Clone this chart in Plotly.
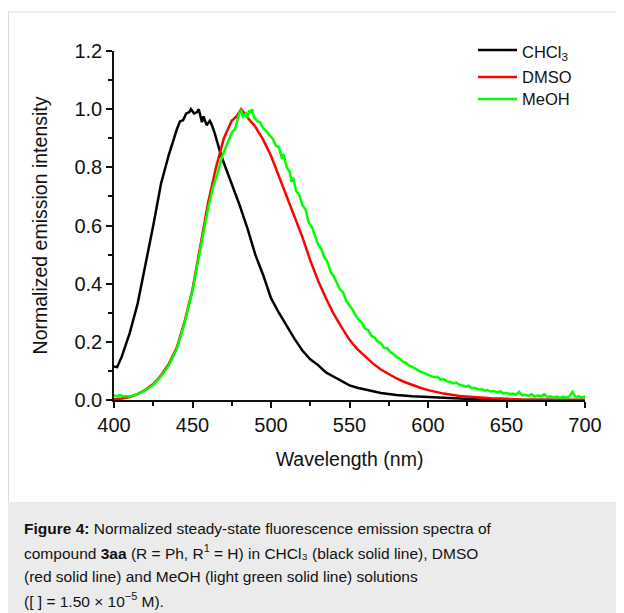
import plotly.graph_objects as go

# CHCl3 (black)
chcl3_nm = [400, 402, 405, 410, 415, 420, 425, 430, 435, 440, 442, 444, 446, 448, 449, 451,
            453, 454, 456, 457, 459, 461, 462, 464, 466, 468, 470, 475, 480, 485, 490, 495,
            500, 505, 510, 515, 520, 525, 530, 535, 540, 545, 550, 555, 560, 565, 570, 575,
            580, 590, 600, 610, 620, 630, 640, 650, 700]
chcl3_int = [0.115, 0.113, 0.15, 0.23, 0.33, 0.46, 0.60, 0.745, 0.845, 0.93, 0.958, 0.962,
             0.985, 0.99, 1.0, 0.985, 0.99, 1.0, 0.955, 0.975, 0.945, 0.96, 0.95, 0.92, 0.88,
             0.845, 0.815, 0.745, 0.67, 0.59, 0.50, 0.43, 0.35, 0.30, 0.255, 0.21, 0.17, 0.14,
             0.12, 0.095, 0.08, 0.066, 0.05, 0.042, 0.035, 0.03, 0.024, 0.02, 0.017, 0.013,
             0.01, 0.007, 0.004, 0.002, 0.0, 0.0, 0.0]

# DMSO (red)
dmso_nm = [400, 405, 410, 415, 420, 425, 430, 435, 440, 445, 450, 455, 460, 465, 470, 475,
           478, 481, 483, 486, 490, 495, 500, 505, 510, 515, 520, 525, 530, 535, 540, 545,
           550, 555, 560, 565, 570, 575, 580, 585, 590, 595, 600, 610, 620, 630, 640, 650,
           660, 680, 700]
dmso_int = [0.003, 0.005, 0.01, 0.02, 0.035, 0.055, 0.085, 0.125, 0.18, 0.27, 0.38, 0.53,
            0.68, 0.80, 0.90, 0.96, 0.975, 1.0, 0.985, 0.965, 0.94, 0.895, 0.84, 0.77, 0.70,
            0.63, 0.56, 0.48, 0.41, 0.35, 0.295, 0.25, 0.207, 0.175, 0.15, 0.125, 0.105,
            0.09, 0.074, 0.062, 0.051, 0.042, 0.034, 0.022, 0.014, 0.009, 0.006, 0.004,
            0.002, 0.001, 0.0]

# MeOH (green)
meoh_nm = [400, 402, 404, 406, 408, 410, 415, 420, 425, 430, 435, 440, 445, 450, 455, 460,
           463, 466, 469, 472, 475, 477, 479, 480, 481, 482, 484, 485, 486, 487, 488, 489,
           491, 493, 495, 497, 499, 501, 503, 505, 507, 508, 510, 512, 513, 514, 516, 518,
           520, 522, 524, 526, 528, 530, 532, 534, 536, 538, 540, 542, 544, 546, 548, 550,
           552, 554, 556, 558, 560, 562, 564, 566, 568, 570, 572, 574, 576, 578, 580, 582,
           584, 586, 588, 590, 592, 594, 596, 598, 600, 602, 604, 606, 608, 610, 612, 614,
           616, 618, 620, 622, 624, 626, 628, 630, 632, 634, 636, 638, 640, 642, 644, 646,
           648, 650, 652, 654, 656, 658, 660, 662, 664, 666, 668, 670, 672, 674, 676, 678,
           680, 682, 684, 686, 688, 690, 692, 694, 696, 698, 700]
meoh_int = [0.016, 0.013, 0.017, 0.012, 0.014, 0.012, 0.02, 0.033, 0.052, 0.082, 0.12, 0.175,
            0.265, 0.375, 0.52, 0.66, 0.73, 0.78, 0.84, 0.88, 0.92, 0.93, 0.975, 0.99, 0.995,
            0.975, 0.985, 0.97, 0.995, 0.99, 1.0, 0.975, 0.96, 0.955, 0.935, 0.925, 0.91,
            0.90, 0.875, 0.87, 0.83, 0.845, 0.80, 0.785, 0.75, 0.765, 0.72, 0.705, 0.67,
            0.655, 0.61, 0.595, 0.565, 0.535, 0.52, 0.49, 0.475, 0.44, 0.425, 0.40, 0.38,
            0.37, 0.34, 0.325, 0.31, 0.29, 0.275, 0.265, 0.245, 0.24, 0.22, 0.215, 0.20,
            0.195, 0.18, 0.178, 0.165, 0.158, 0.148, 0.142, 0.132, 0.128, 0.118, 0.114,
            0.106, 0.101, 0.096, 0.092, 0.086, 0.083, 0.078, 0.08, 0.07, 0.072, 0.064, 0.063,
            0.057, 0.06, 0.052, 0.05, 0.046, 0.049, 0.04, 0.042, 0.036, 0.038, 0.032, 0.034,
            0.029, 0.031, 0.026, 0.03, 0.022, 0.025, 0.02, 0.022, 0.018, 0.028, 0.016, 0.018,
            0.014, 0.02, 0.012, 0.016, 0.012, 0.02, 0.01, 0.013, 0.009, 0.012, 0.008, 0.011,
            0.008, 0.012, 0.028, 0.01, 0.013, 0.009, 0.012]

series_names = ["CHCl<sub>3</sub>", "DMSO", "MeOH"]
series_colors = ["#000000", "#ff0000", "#00ff00"]

caption_lines = [
    "<b>Figure 4:</b> Normalized steady-state fluorescence emission spectra of",
    "compound <b>3aa</b> (R = Ph, R<sup>1</sup> = H) in CHCl₃ (black solid line), DMSO",
    "(red solid line) and MeOH (light green solid line) solutions",
    "([ ] = 1.50 × 10<sup>−5</sup> M).",
]

# page body has an 8px margin, so the figure is drawn from (8, 8) of the window
OX, OY = 8, 8
WIN_W, WIN_H = 624, 613
W, H = WIN_W - OX, WIN_H - OY
L, R, T, B = 114, 585, 51, 400  # plot area in window pixels


def px_x(p):
    return (p - L) / (R - L)


def px_y(p):
    return (B - p) / (B - T)


FONT = "Liberation Sans, Arial, sans-serif"
INK = "#111111"

fig = go.Figure()
xs_all = [chcl3_nm, dmso_nm, meoh_nm]
ys_all = [chcl3_int, dmso_int, meoh_int]
for name, xs, ys, col in zip(series_names, xs_all, ys_all, series_colors):
    fig.add_trace(go.Scatter(x=xs, y=ys, mode="lines", name=name,
                             line={"color": col, "width": 2.5}, showlegend=False))

axis_common = dict(
    showline=True, linecolor=INK, linewidth=1.5, showgrid=False, zeroline=False,
    ticks="outside", ticklen=6, tickwidth=1.5, tickcolor=INK,
    tickfont={"family": FONT, "size": 20, "color": INK},
    title_font={"family": FONT, "size": 19.5, "color": INK},
)

fig.update_xaxes(range=[400, 700], tickvals=[400, 450, 500, 550, 600, 650, 700],
                 minor={"dtick": 25, "ticks": "outside", "ticklen": 4, "tickcolor": INK},
                 title_text="Wavelength (nm)", title_standoff=18, **axis_common)
fig.update_yaxes(range=[0, 1.2], tickvals=[0, 0.2, 0.4, 0.6, 0.8, 1.0, 1.2],
                 tickformat=".1f",
                 minor={"dtick": 0.1, "ticks": "outside", "ticklen": 4, "tickcolor": INK},
                 title_text="Normalized emission intensity", title_standoff=22, **axis_common)

shapes = [
    # outer figure frame
    dict(type="rect", xref="paper", yref="paper", x0=px_x(8.5), x1=px_x(660),
         y0=px_y(660), y1=px_y(12), line={"color": "#dcdcdc", "width": 1},
         fillcolor="rgba(0,0,0,0)", layer="below"),
    # caption background
    dict(type="rect", xref="paper", yref="paper", x0=px_x(8), x1=px_x(660),
         y0=px_y(660), y1=px_y(502), line={"width": 0}, fillcolor="#ebebeb",
         layer="below"),
]

annotations = []
# legend: short line samples with labels
legend_rows = [50, 77, 99]
for name, col, yrow in zip(series_names, series_colors, legend_rows):
    shapes.append(dict(type="line", xref="paper", yref="paper",
                       x0=px_x(478), x1=px_x(517), y0=px_y(yrow), y1=px_y(yrow),
                       line={"color": col, "width": 2.5}))
    annotations.append(dict(
        text=name, xref="paper", yref="paper", x=px_x(520),
        y=px_y(yrow + (3 if "sub" in name else 0)),
        xanchor="left", yanchor="middle", showarrow=False,
        font={"family": FONT, "size": 16.5, "color": INK},
    ))

for i, txt in enumerate(caption_lines):
    annotations.append(dict(
        text=txt, xref="paper", yref="paper", x=px_x(22), y=px_y(528 + 24 * i),
        xanchor="left", yanchor="middle", showarrow=False, align="left",
        font={"family": FONT, "size": 15.5, "color": INK},
    ))

fig.update_layout(
    width=W, height=H,
    margin={"l": L - OX, "r": WIN_W - R, "t": T - OY, "b": WIN_H - B, "autoexpand": False},
    paper_bgcolor="white", plot_bgcolor="white",
    showlegend=False,
    shapes=shapes,
    annotations=annotations,
)

fig.write_html("out.html")
